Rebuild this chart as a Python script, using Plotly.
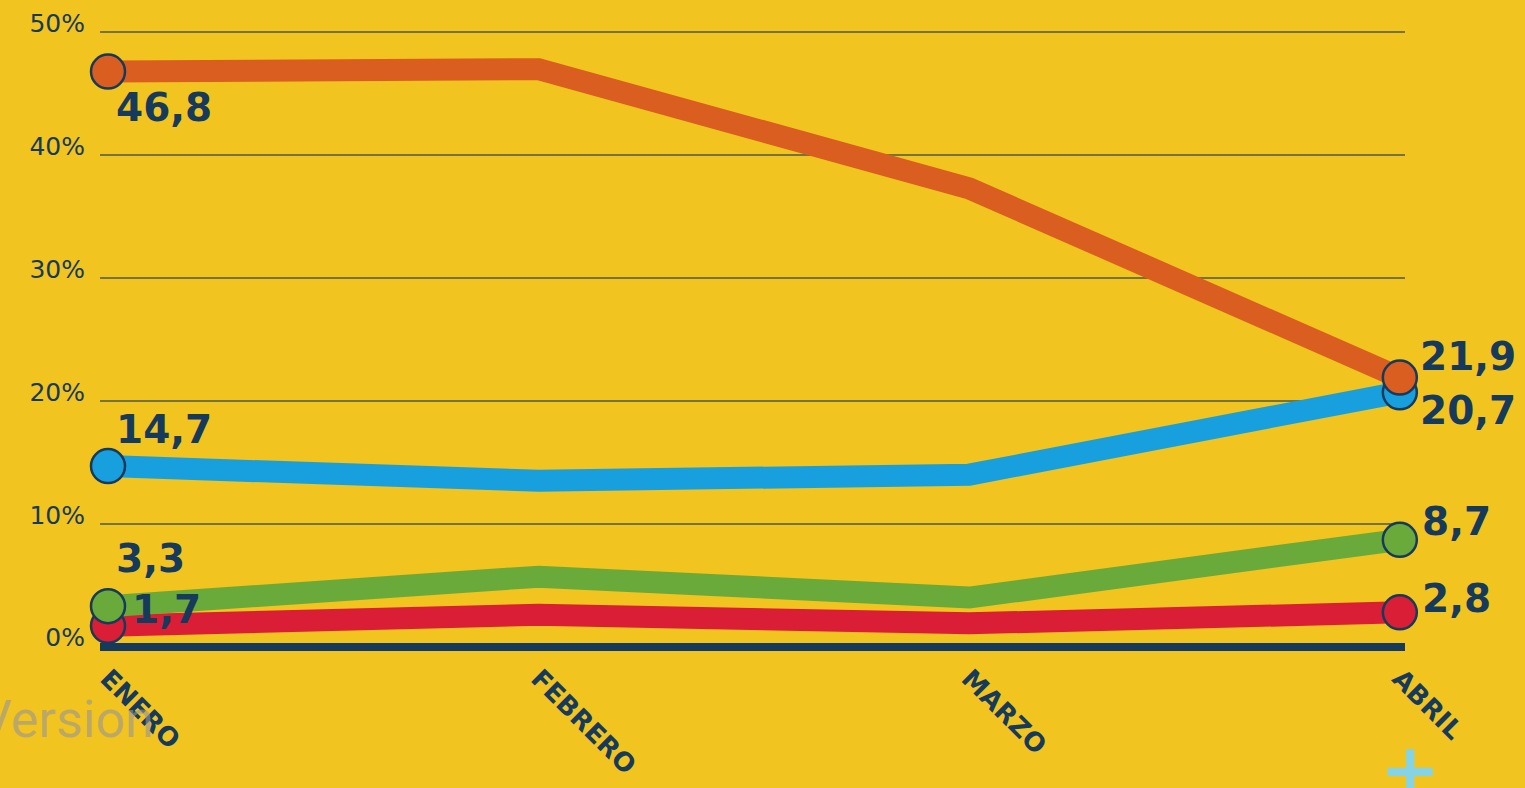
import plotly.graph_objects as go

months = ["ENERO", "FEBRERO", "MARZO", "ABRIL"]
orange_vals = [46.8, 47.0, 37.3, 21.9]
blue_vals = [14.7, 13.5, 14.0, 20.7]
green_vals = [3.3, 5.7, 4.0, 8.7]
red_vals = [1.7, 2.6, 1.9, 2.8]
y_ticks = [0, 10, 20, 30, 40, 50]
y_tick_labels = ["0%", "10%", "20%", "30%", "40%", "50%"]

BG = "#F2C420"
NAVY = "#163A5C"

series = [
    ("red", red_vals, "#D91E36"),
    ("green", green_vals, "#6AAA3A"),
    ("blue", blue_vals, "#18A0DE"),
    ("orange", orange_vals, "#DA5E20"),
]

# label placements (style): series -> list of (index, xshift, yshift)
label_pos = {
    "orange": [(0, 6, -36), (3, 18, 21)],
    "blue": [(0, 6, 37), (3, 18, -18)],
    "green": [(0, 6, 48), (3, 20, 18)],
    "red": [(0, 22, 16), (3, 20, 14)],
}

def fmt(v):
    return f"{v:.1f}".replace(".", ",")

fig = go.Figure()
annotations = []
ends = [0, len(months) - 1]
for name, vals, color in series:
    fig.add_trace(go.Scatter(
        x=months, y=vals, mode="lines",
        line=dict(color=color, width=22),
        cliponaxis=False, hoverinfo="skip", showlegend=False,
    ))
    fig.add_trace(go.Scatter(
        x=[months[i] for i in ends], y=[vals[i] for i in ends], mode="markers",
        marker=dict(size=34, color=color, line=dict(color=NAVY, width=2.5)),
        cliponaxis=False, hoverinfo="skip", showlegend=False,
    ))
    for idx, xs, ys in label_pos[name]:
        annotations.append(dict(
            x=months[idx], y=vals[idx], xref="x", yref="y",
            text=fmt(vals[idx]), showarrow=False,
            xanchor="left", yanchor="middle", xshift=xs, yshift=ys,
            font=dict(family="DejaVu Sans", size=39, color=NAVY, weight="bold"),
        ))

# decorative watermark and plus sign
annotations.append(dict(
    x=-0.094, y=-0.095, xref="paper", yref="paper", text="Version",
    showarrow=False, xanchor="left", yanchor="middle",
    font=dict(family="Roboto", size=52, color="rgba(150,150,150,0.6)"),
))
annotations.append(dict(
    x=1.004, y=-0.172, xref="paper", yref="paper", text="+",
    showarrow=False, xanchor="center", yanchor="middle",
    font=dict(family="DejaVu Sans", size=72, color="#86D3E3", weight="bold"),
))

fig.update_layout(
    width=1525, height=788,
    paper_bgcolor=BG, plot_bgcolor=BG,
    margin=dict(l=100, r=120, t=20, b=129, autoexpand=False),
    annotations=annotations,
    xaxis=dict(
        type="category", range=[-0.0186, 3.012], automargin=False,
        showgrid=False, zeroline=False, showline=False,
        tickangle=45, tickfont=dict(family="DejaVu Sans", size=26, color=NAVY, weight="bold"),
        ticks="", ticklabelstandoff=-2,
    ),
    yaxis=dict(
        range=[-1, 51], tickvals=y_ticks, ticktext=y_tick_labels, automargin=False,
        showgrid=True, gridcolor="#75733F", gridwidth=2,
        zeroline=True, zerolinecolor=NAVY, zerolinewidth=8,
        showline=False, ticks="",
        tickfont=dict(family="DejaVu Sans", size=25, color=NAVY),
        ticklabelstandoff=14, ticklabelshift=-9,
    ),
)

fig.write_html(
    "out.html",
    config={"displayModeBar": False},
    post_script="document.body.style.margin='0';document.body.style.overflow='hidden';",
)
